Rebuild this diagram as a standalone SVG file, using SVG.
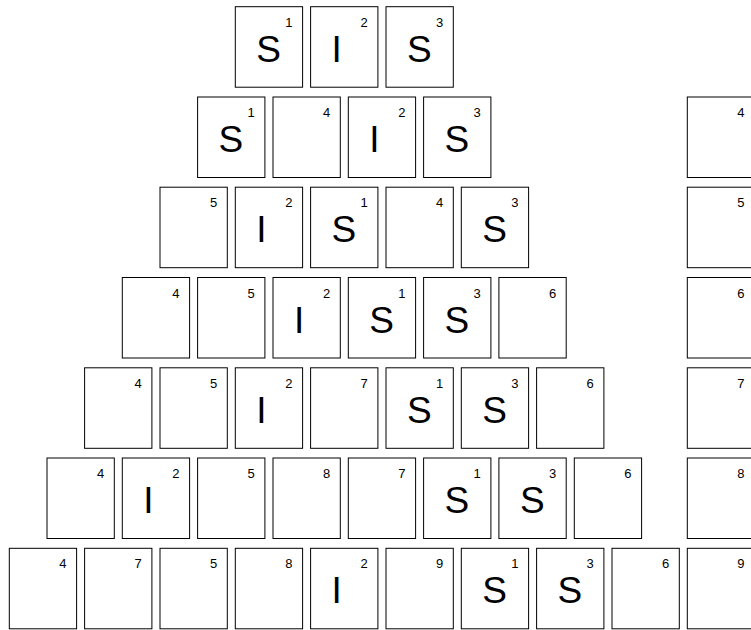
<svg xmlns="http://www.w3.org/2000/svg" width="751" height="630" viewBox="0 0 751 630">
<style>
rect{fill:#fff;stroke:#000;stroke-width:1}
.big{font-family:"Liberation Sans",Arial,sans-serif;font-size:37px;fill:#000}
.num{font-family:"Liberation Sans",Arial,sans-serif;font-size:13px;fill:#000}
</style>
<rect x="0" y="0" width="751" height="630" style="stroke:none"/>
<g id="connectors"/>
<!-- Row 1 -->
<g id="r1b1" transform="translate(235.3,6.7)"><rect width="67.3" height="80.5"/><text class="big" x="21" y="55">S</text><text class="num" x="50" y="20">1</text></g>
<g id="r1b2" transform="translate(310.6,6.7)"><rect width="67.3" height="80.5"/><text class="big" x="21" y="55">I</text><text class="num" x="50" y="20">2</text></g>
<g id="r1b3" transform="translate(386,6.7)"><rect width="67.3" height="80.5"/><text class="big" x="21" y="55">S</text><text class="num" x="50" y="20">3</text></g>
<!-- Row 2 -->
<g id="r2b1" transform="translate(197.6,97)"><rect width="67.3" height="80.5"/><text class="big" x="21" y="55">S</text><text class="num" x="50" y="20">1</text></g>
<g id="r2b2" transform="translate(273,97)"><rect width="67.3" height="80.5"/><text class="num" x="50" y="20">4</text></g>
<g id="r2b3" transform="translate(348.3,97)"><rect width="67.3" height="80.5"/><text class="big" x="21" y="55">I</text><text class="num" x="50" y="20">2</text></g>
<g id="r2b4" transform="translate(423.6,97)"><rect width="67.3" height="80.5"/><text class="big" x="21" y="55">S</text><text class="num" x="50" y="20">3</text></g>
<g id="c2" transform="translate(687.3,97)"><rect width="67.3" height="80.5"/><text class="num" x="50" y="20">4</text></g>
<!-- Row 3 -->
<g id="r3b1" transform="translate(160,187.2)"><rect width="67.3" height="80.5"/><text class="num" x="50" y="20">5</text></g>
<g id="r3b2" transform="translate(235.3,187.2)"><rect width="67.3" height="80.5"/><text class="big" x="21" y="55">I</text><text class="num" x="50" y="20">2</text></g>
<g id="r3b3" transform="translate(310.6,187.2)"><rect width="67.3" height="80.5"/><text class="big" x="21" y="55">S</text><text class="num" x="50" y="20">1</text></g>
<g id="r3b4" transform="translate(386,187.2)"><rect width="67.3" height="80.5"/><text class="num" x="50" y="20">4</text></g>
<g id="r3b5" transform="translate(461.3,187.2)"><rect width="67.3" height="80.5"/><text class="big" x="21" y="55">S</text><text class="num" x="50" y="20">3</text></g>
<g id="c3" transform="translate(687.3,187.2)"><rect width="67.3" height="80.5"/><text class="num" x="50" y="20">5</text></g>
<!-- Row 4 -->
<g id="r4b1" transform="translate(122.3,277.5)"><rect width="67.3" height="80.5"/><text class="num" x="50" y="20">4</text></g>
<g id="r4b2" transform="translate(197.6,277.5)"><rect width="67.3" height="80.5"/><text class="num" x="50" y="20">5</text></g>
<g id="r4b3" transform="translate(273,277.5)"><rect width="67.3" height="80.5"/><text class="big" x="21" y="55">I</text><text class="num" x="50" y="20">2</text></g>
<g id="r4b4" transform="translate(348.3,277.5)"><rect width="67.3" height="80.5"/><text class="big" x="21" y="55">S</text><text class="num" x="50" y="20">1</text></g>
<g id="r4b5" transform="translate(423.6,277.5)"><rect width="67.3" height="80.5"/><text class="big" x="21" y="55">S</text><text class="num" x="50" y="20">3</text></g>
<g id="r4b6" transform="translate(498.9,277.5)"><rect width="67.3" height="80.5"/><text class="num" x="50" y="20">6</text></g>
<g id="c4" transform="translate(687.3,277.5)"><rect width="67.3" height="80.5"/><text class="num" x="50" y="20">6</text></g>
<!-- Row 5 -->
<g id="r5b1" transform="translate(84.6,367.8)"><rect width="67.3" height="80.5"/><text class="num" x="50" y="20">4</text></g>
<g id="r5b2" transform="translate(160,367.8)"><rect width="67.3" height="80.5"/><text class="num" x="50" y="20">5</text></g>
<g id="r5b3" transform="translate(235.3,367.8)"><rect width="67.3" height="80.5"/><text class="big" x="21" y="55">I</text><text class="num" x="50" y="20">2</text></g>
<g id="r5b4" transform="translate(310.6,367.8)"><rect width="67.3" height="80.5"/><text class="num" x="50" y="20">7</text></g>
<g id="r5b5" transform="translate(386,367.8)"><rect width="67.3" height="80.5"/><text class="big" x="21" y="55">S</text><text class="num" x="50" y="20">1</text></g>
<g id="r5b6" transform="translate(461.3,367.8)"><rect width="67.3" height="80.5"/><text class="big" x="21" y="55">S</text><text class="num" x="50" y="20">3</text></g>
<g id="r5b7" transform="translate(536.6,367.8)"><rect width="67.3" height="80.5"/><text class="num" x="50" y="20">6</text></g>
<g id="c5" transform="translate(687.3,367.8)"><rect width="67.3" height="80.5"/><text class="num" x="50" y="20">7</text></g>
<!-- Row 6 -->
<g id="r6b1" transform="translate(47,458)"><rect width="67.3" height="80.5"/><text class="num" x="50" y="20">4</text></g>
<g id="r6b2" transform="translate(122.3,458)"><rect width="67.3" height="80.5"/><text class="big" x="21" y="55">I</text><text class="num" x="50" y="20">2</text></g>
<g id="r6b3" transform="translate(197.6,458)"><rect width="67.3" height="80.5"/><text class="num" x="50" y="20">5</text></g>
<g id="r6b4" transform="translate(273,458)"><rect width="67.3" height="80.5"/><text class="num" x="50" y="20">8</text></g>
<g id="r6b5" transform="translate(348.3,458)"><rect width="67.3" height="80.5"/><text class="num" x="50" y="20">7</text></g>
<g id="r6b6" transform="translate(423.6,458)"><rect width="67.3" height="80.5"/><text class="big" x="21" y="55">S</text><text class="num" x="50" y="20">1</text></g>
<g id="r6b7" transform="translate(498.9,458)"><rect width="67.3" height="80.5"/><text class="big" x="21" y="55">S</text><text class="num" x="50" y="20">3</text></g>
<g id="r6b8" transform="translate(574.3,458)"><rect width="67.3" height="80.5"/><text class="num" x="50" y="20">6</text></g>
<g id="c6" transform="translate(687.3,458)"><rect width="67.3" height="80.5"/><text class="num" x="50" y="20">8</text></g>
<!-- Row 7 -->
<g id="r7b1" transform="translate(9.3,548.3)"><rect width="67.3" height="80.5"/><text class="num" x="50" y="20">4</text></g>
<g id="r7b2" transform="translate(84.6,548.3)"><rect width="67.3" height="80.5"/><text class="num" x="50" y="20">7</text></g>
<g id="r7b3" transform="translate(160,548.3)"><rect width="67.3" height="80.5"/><text class="num" x="50" y="20">5</text></g>
<g id="r7b4" transform="translate(235.3,548.3)"><rect width="67.3" height="80.5"/><text class="num" x="50" y="20">8</text></g>
<g id="r7b5" transform="translate(310.6,548.3)"><rect width="67.3" height="80.5"/><text class="big" x="21" y="55">I</text><text class="num" x="50" y="20">2</text></g>
<g id="r7b6" transform="translate(386,548.3)"><rect width="67.3" height="80.5"/><text class="num" x="50" y="20">9</text></g>
<g id="r7b7" transform="translate(461.3,548.3)"><rect width="67.3" height="80.5"/><text class="big" x="21" y="55">S</text><text class="num" x="50" y="20">1</text></g>
<g id="r7b8" transform="translate(536.6,548.3)"><rect width="67.3" height="80.5"/><text class="big" x="21" y="55">S</text><text class="num" x="50" y="20">3</text></g>
<g id="r7b9" transform="translate(612,548.3)"><rect width="67.3" height="80.5"/><text class="num" x="50" y="20">6</text></g>
<g id="c7" transform="translate(687.3,548.3)"><rect width="67.3" height="80.5"/><text class="num" x="50" y="20">9</text></g>
</svg>
